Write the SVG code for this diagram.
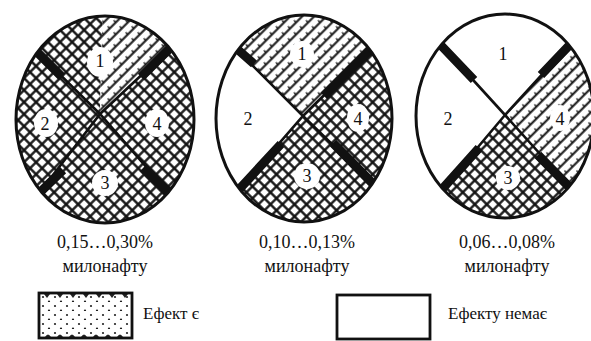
<svg xmlns="http://www.w3.org/2000/svg" width="591" height="341" viewBox="0 0 591 341">
<style>
.outline{fill:none;stroke:#111;stroke-width:3}
.thin{stroke:#111;stroke-width:2.6;fill:none;stroke-linecap:round}
.thick{stroke:#111;stroke-width:9;fill:none;stroke-linecap:butt}
.num{font-family:"Liberation Serif","DejaVu Serif",serif;font-size:18px;fill:#111;text-anchor:middle}
.cap{font-family:"Liberation Serif","DejaVu Serif",serif;font-size:18px;fill:#111;text-anchor:middle}
.leg{font-family:"Liberation Serif","DejaVu Serif",serif;font-size:17px;fill:#111}
.patch{fill:#fff}
.box{fill:none;stroke:#111;stroke-width:2.8}
.notch{fill:#222}
</style>
<defs>
<pattern id="xh" width="8.5" height="8.5" patternUnits="userSpaceOnUse" patternTransform="rotate(45)">
<rect width="8.5" height="8.5" fill="#fff"/>
<path d="M0 4.25H8.5M4.25 0V8.5" stroke="#111" stroke-width="2.3" fill="none"/>
</pattern>
<pattern id="sh" width="8.5" height="8.5" patternUnits="userSpaceOnUse" patternTransform="rotate(45)">
<rect width="8.5" height="8.5" fill="#fff"/>
<path d="M4.25 0V8.5" stroke="#111" stroke-width="2" fill="none"/>
<path d="M1.2 2H3.8" stroke="#111" stroke-width="1.3" fill="none"/>
</pattern>
<pattern id="dots" width="12" height="9" patternUnits="userSpaceOnUse" x="39" y="302">
<circle cx="4" cy="4" r="1.1" fill="#222"/>
<circle cx="10" cy="8.5" r="1.1" fill="#222"/>
</pattern>
<clipPath id="k1"><ellipse cx="105" cy="119.5" rx="89" ry="103.5"/></clipPath>
<clipPath id="k2"><ellipse cx="304" cy="118.5" rx="88" ry="103.5"/></clipPath>
<clipPath id="k3"><ellipse cx="505" cy="116" rx="89" ry="102"/></clipPath>
</defs>
<rect width="591" height="341" fill="#fff"/>

<g id="circle1">
<g clip-path="url(#k1)">
<polygon points="100,114 -24,-8 103,-8" fill="url(#xh)"/>
<polygon points="100,114 103,-8 230,-8" fill="url(#sh)"/>
<polygon points="100,114 -24,-8 -20,270" fill="url(#xh)"/>
<polygon points="100,114 -20,270 236,270" fill="url(#xh)"/>
<polygon points="100,114 230,-8 236,270" fill="url(#xh)"/>
<ellipse class="patch" cx="100" cy="62" rx="13" ry="15"/>
<ellipse class="patch" cx="46" cy="123" rx="12" ry="14"/>
<ellipse class="patch" cx="157" cy="123" rx="12" ry="14"/>
<ellipse class="patch" cx="105" cy="183" rx="13" ry="13"/>
<path class="thin" d="M38 53L100 114L168 192M165 53L100 114L40 192"/>
<path class="thick" d="M28 43L62 77M175 43L141 77M30 202L63 170M178 202L143 168"/>
</g>
<ellipse class="outline" cx="105" cy="119.5" rx="89" ry="103.5"/>
<text class="num" x="100" y="67">1</text>
<text class="num" x="45" y="130">2</text>
<text class="num" x="157" y="130">4</text>
<text class="num" x="105" y="189">3</text>
</g>

<g id="circle2">
<g clip-path="url(#k2)">
<polygon points="303,116 173,-14 439,-18" fill="url(#sh)"/>
<polygon points="303,116 181,256 439,248" fill="url(#xh)"/>
<polygon points="303,116 439,-18 439,248" fill="url(#xh)"/>
<ellipse class="patch" cx="302" cy="54" rx="12" ry="13"/>
<ellipse class="patch" cx="358" cy="118" rx="11" ry="14"/>
<ellipse class="patch" cx="307" cy="176" rx="13" ry="13"/>
<path class="thin" d="M238 51L303 116L371 182M371 49L303 116L242 186"/>
<path class="thick" d="M228 41L254 64M381 39L324 96M232 197L281 144M381 192L333 143"/>
</g>
<ellipse class="outline" cx="304" cy="118.5" rx="88" ry="103.5"/>
<text class="num" x="302" y="60">1</text>
<text class="num" x="248" y="125">2</text>
<text class="num" x="358" y="125">4</text>
<text class="num" x="307" y="182">3</text>
</g>

<g id="circle3">
<g clip-path="url(#k3)">
<polygon points="505,115 387,255 631,255" fill="url(#xh)"/>
<polygon points="505,115 635,-27 631,255" fill="url(#sh)"/>
<ellipse class="patch" cx="560" cy="118" rx="10" ry="13"/>
<ellipse class="patch" cx="508" cy="178" rx="12" ry="12"/>
<path class="thin" d="M443 47L505 115L568 185M570 44L505 115L446 185"/>
<path class="thick" d="M433 37L474 80M580 34L541 75M436 196L479 148M578 196L538 155"/>
</g>
<ellipse class="outline" cx="505" cy="116" rx="89" ry="102"/>
<text class="num" x="503" y="60">1</text>
<text class="num" x="448" y="125">2</text>
<text class="num" x="560" y="125">4</text>
<text class="num" x="508" y="184">3</text>
</g>

<g id="captions">
<text class="cap" x="105" y="248">0,15…0,30%</text>
<text class="cap" x="105" y="272">милонафту</text>
<text class="cap" x="307" y="248">0,10…0,13%</text>
<text class="cap" x="307" y="272">милонафту</text>
<text class="cap" x="507" y="248">0,06…0,08%</text>
<text class="cap" x="507" y="272">милонафту</text>
</g>

<g id="legend-effect">
<rect x="39" y="293" width="93" height="45" fill="url(#dots)"/>
<path class="notch" d="M44 294h6l-3 4zM57 294h6l-3 4zM70 294h6l-3 4zM83 294h6l-3 4zM96 294h6l-3 4zM109 294h6l-3 4zM122 294h6l-3 4z"/>
<path class="notch" d="M45 337q3-5 6 0zM57 337q3-5 6 0zM69 337q3-5 6 0zM81 337q3-5 6 0zM93 337q3-5 6 0zM105 337q3-5 6 0zM117 337q3-5 6 0z"/>
<rect class="box" x="39" y="293" width="93" height="45"/>
<text class="leg" x="143" y="319">Ефект є</text>
</g>
<g id="legend-noeffect">
<rect class="box" x="337" y="295" width="93" height="44"/>
<text class="leg" x="448" y="319">Ефекту немає</text>
</g>
</svg>
